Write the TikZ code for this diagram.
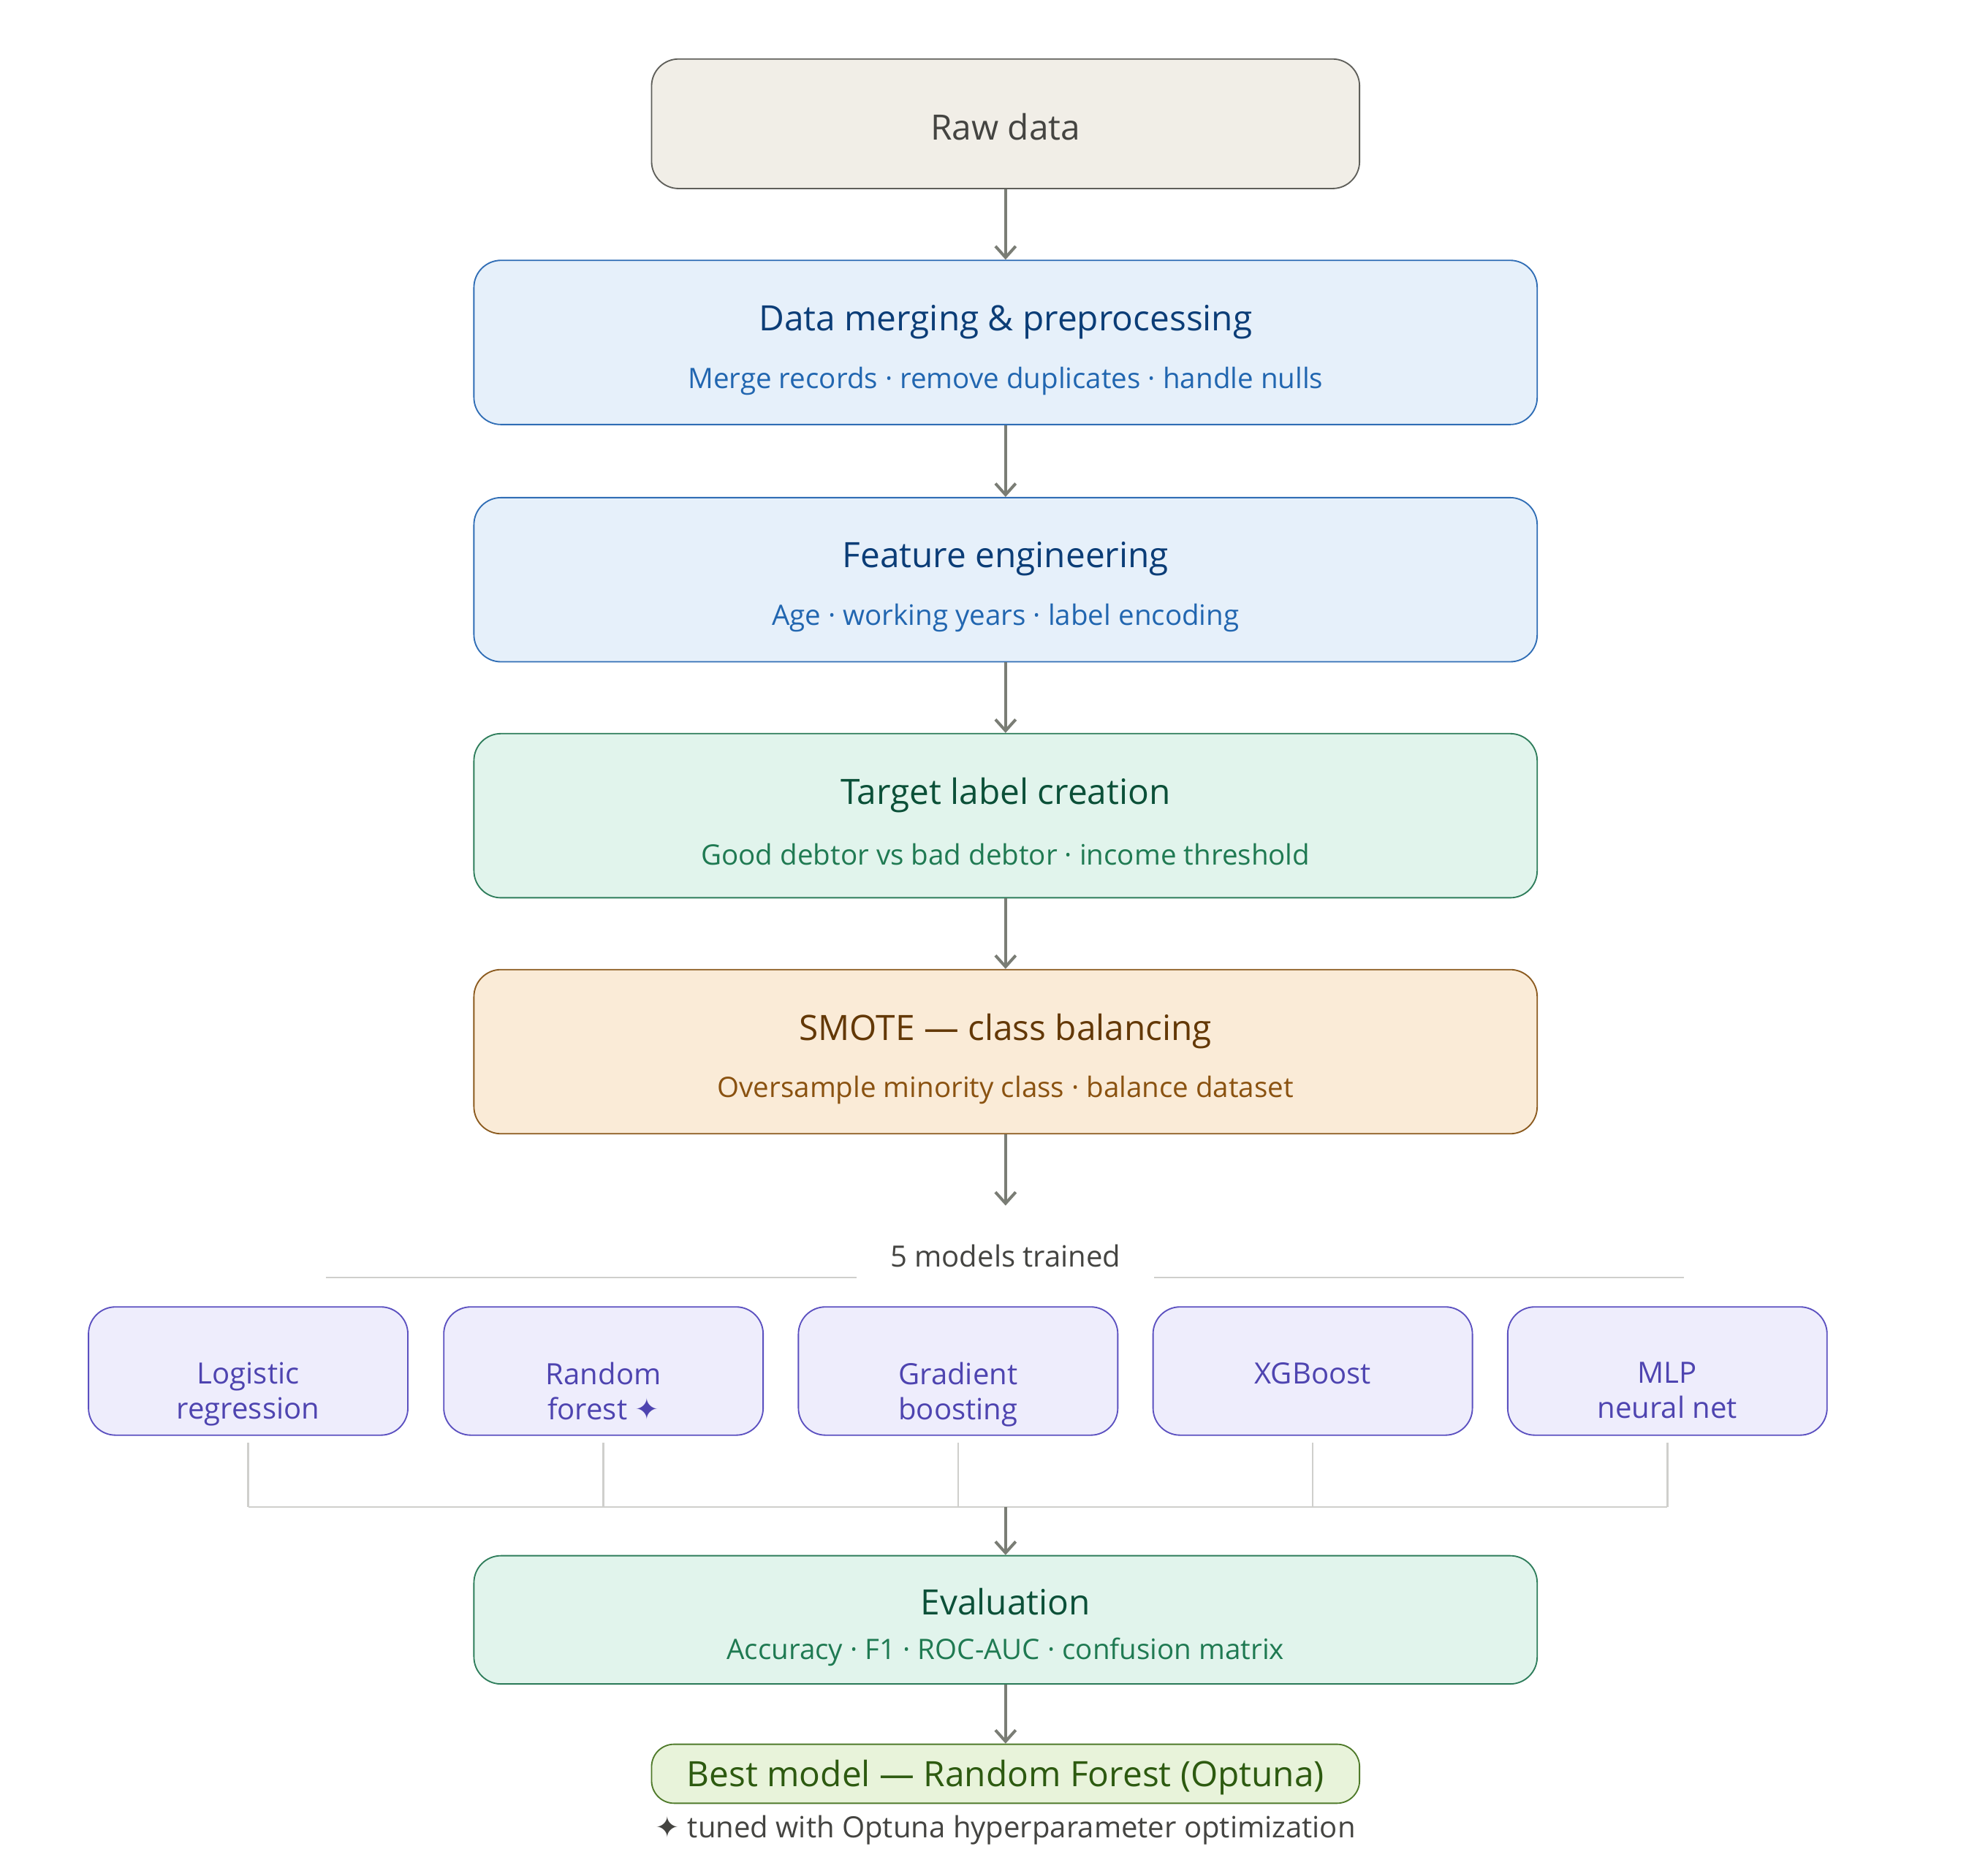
\documentclass[tikz,border=0pt]{standalone}
\usepackage{fontspec}
\setmainfont{Open Sans}
\newfontfamily\symf{DejaVu Sans}
\usetikzlibrary{arrows.meta}
\definecolor{arr}{HTML}{7A7D75}
\definecolor{rawF}{HTML}{F1EEE7}\definecolor{rawD}{HTML}{5F5F5A}\definecolor{rawT}{HTML}{444441}
\definecolor{bluF}{HTML}{E6F0FA}\definecolor{bluD}{HTML}{2F6DB5}\definecolor{bluT}{HTML}{0B3D77}\definecolor{bluS}{HTML}{2166B0}
\definecolor{grnF}{HTML}{E1F4EC}\definecolor{grnD}{HTML}{2E7D5B}\definecolor{grnT}{HTML}{0B5038}\definecolor{grnS}{HTML}{1F7A52}
\definecolor{orgF}{HTML}{FAEBD7}\definecolor{orgD}{HTML}{8B5A1E}\definecolor{orgT}{HTML}{633806}\definecolor{orgS}{HTML}{8A5210}
\definecolor{purF}{HTML}{EEEDFC}\definecolor{purD}{HTML}{5B50C0}\definecolor{purT}{HTML}{4E44B0}
\definecolor{limF}{HTML}{E8F3DA}\definecolor{limD}{HTML}{4F7A2A}\definecolor{limT}{HTML}{2D5A10}
\definecolor{lgr}{HTML}{CFCFCC}
\begin{document}
\begin{tikzpicture}[x=0.02cm,y=-0.02cm,
 box/.style={draw,rounded corners=12pt,line width=0.6pt,inner sep=0},
 big/.style={box,minimum width=829*0.02cm,minimum height=128*0.02cm},
 mdl/.style={box,draw=purD,fill=purF,minimum width=249*0.02cm,minimum height=100*0.02cm},
 ttl/.style={font=\fontsize{15.5}{18}\selectfont},
 sub/.style={font=\fontsize{12.5}{15}\selectfont},
 mtx/.style={font=\fontsize{13}{15.5}\selectfont,text=purT,align=center},
 ar/.style={draw=arr,line width=1.3pt,-{Straight Barb[length=5pt,width=9pt]}},
 ln/.style={draw=lgr,line width=0.8pt}]
\useasboundingbox (0,0) rectangle (1550,1450);
\node[box,draw=rawD,fill=rawF,minimum width=552*0.02cm,minimum height=101*0.02cm] (raw) at (784,96.5) {};
\node[ttl,text=rawT] at (784,99) {Raw data};
\node[big,draw=bluD,fill=bluF] (b2) at (784,267) {};
\node[ttl,text=bluT] at (784,251) {Data merging \& preprocessing};
\node[sub,text=bluS] at (784,297) {Merge records · remove duplicates · handle nulls};
\node[big,draw=bluD,fill=bluF] (b3) at (784,452) {};
\node[ttl,text=bluT] at (784,436) {Feature engineering};
\node[sub,text=bluS] at (784,482) {Age · working years · label encoding};
\node[big,draw=grnD,fill=grnF] (b4) at (784,636) {};
\node[ttl,text=grnT] at (784,620) {Target label creation};
\node[sub,text=grnS] at (784,666) {Good debtor vs bad debtor · income threshold};
\node[big,draw=orgD,fill=orgF] (b5) at (784,820) {};
\node[ttl,text=orgT] at (784,804) {SMOTE — class balancing};
\node[sub,text=orgS] at (784,850) {Oversample minority class · balance dataset};
\coordinate (a5) at (784,940);
\node[font=\fontsize{13}{15}\selectfont,text=rawT] (mt) at (784,979) {5 models trained};
\coordinate (l1) at (254,996);\coordinate (l2) at (668,996);\coordinate (l3) at (900,996);\coordinate (l4) at (1313,996);
\draw[ln] (l1)--(l2) (l3)--(l4);
\foreach \n/\x/\t in {m1/193.5/{Logistic\\regression},m2/470.5/{Random\\forest {\symf ✦}},m3/747/{Gradient\\boosting},m4/1023.5/{XGBoost\\\phantom{X}},m5/1300/{MLP\\neural net}}{
 \node[mdl] (\n) at (\x,1069) {};
 \node[mtx,anchor=north] at (\x,1056) {\t};
 \coordinate (\n j) at (\x,1175);
 \draw[ln] ([yshift=-3pt]\n.south) -- (\n j);
}
\draw[ln] (m1j)--(m5j);
\coordinate (hub) at (784,1175);
\node[box,draw=grnD,fill=grnF,minimum width=829*0.02cm,minimum height=100*0.02cm] (ev) at (784,1263) {};
\node[ttl,text=grnT] at (784,1249) {Evaluation};
\node[sub,text=grnS] at (784,1288) {Accuracy · F1 · ROC-AUC · confusion matrix};
\node[box,draw=limD,fill=limF,rounded corners=10pt,minimum width=552*0.02cm,minimum height=46*0.02cm] (best) at (784,1383) {};
\node[ttl,text=limT] at (784,1386) {Best model — Random Forest (Optuna)};
\node[font=\fontsize{13}{15}\selectfont,text=rawT] at (784,1427) {{\symf ✦} tuned with Optuna hyperparameter optimization};
\draw[ar] (raw)--(b2);
\draw[ar] (b2)--(b3);
\draw[ar] (b3)--(b4);
\draw[ar] (b4)--(b5);
\draw[ar] (b5.south)++(0,0) -- (a5);
\draw[ar] (hub)--(ev);
\draw[ar] (ev)--(best);
\end{tikzpicture}
\end{document}
